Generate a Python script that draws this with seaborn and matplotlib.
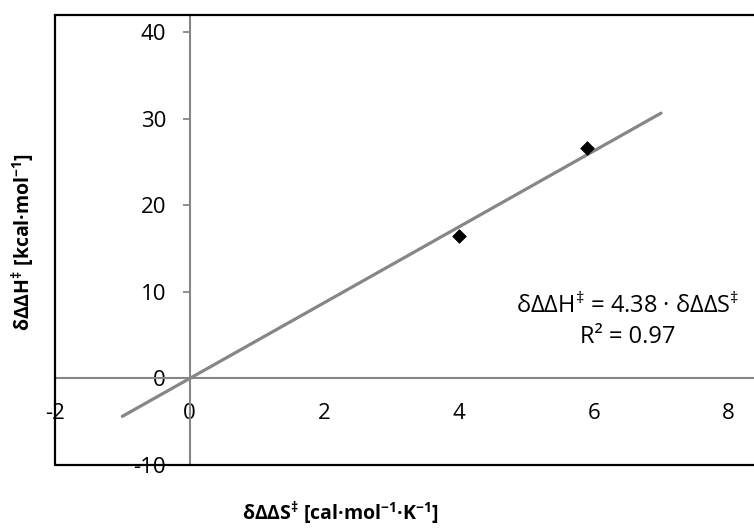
import matplotlib
matplotlib.use("Agg")
import matplotlib.pyplot as plt
import seaborn as sns
import numpy as np
import pandas as pd

# Data
dds = [4.0, 5.9]          # δΔΔS‡ [cal·mol⁻¹·K⁻¹]
ddh = [16.5, 26.6]        # δΔΔH‡ [kcal·mol⁻¹]
trend_slope = 4.38
trend_x = [-1.0, 7.0]
r2 = 0.97
x_ticks = [-2, 0, 2, 4, 6, 8]
y_ticks = [-10, 0, 10, 20, 30, 40]

sns.set_theme(style="white")
plt.rcParams['font.family'] = ['Open Sans', 'DejaVu Sans']
plt.rcParams['text.color'] = 'black'
plt.rcParams['mathtext.fontset'] = 'custom'
plt.rcParams['mathtext.rm'] = 'Open Sans'
plt.rcParams['mathtext.bf'] = 'Open Sans:bold'
plt.rcParams['mathtext.it'] = 'Open Sans:italic'
plt.rcParams['mathtext.default'] = 'rm'

fig = plt.figure(figsize=(7.54, 5.28), dpi=100)
ax = fig.add_axes([55/754, 63/528, 808/754, 450/528])

df = pd.DataFrame({"x": dds, "y": ddh})
trend = pd.DataFrame({"x": trend_x, "y": [trend_slope * v for v in trend_x]})

grey = "#868686"
sns.lineplot(data=trend, x="x", y="y", ax=ax, color=grey, lw=2.3, zorder=3)
sns.scatterplot(data=df, x="x", y="y", ax=ax, marker="D", s=48, color="black",
                edgecolor="black", zorder=4)

ax.set_xlim(-2, 10)
ax.set_ylim(-10, 42)
ax.set_xticks(x_ticks)
ax.set_yticks(y_ticks)
ax.set_xticklabels([str(t) for t in x_ticks])
ax.set_yticklabels([str(t) for t in y_ticks])

ax.spines['left'].set_position(('data', 0))
ax.spines['bottom'].set_position(('data', 0))
ax.spines['left'].set_color(grey)
ax.spines['bottom'].set_color(grey)
ax.spines['left'].set_linewidth(1.5)
ax.spines['bottom'].set_linewidth(1.5)
ax.spines['top'].set_color("black")
ax.spines['top'].set_linewidth(1.6)
ax.spines['right'].set_visible(False)

# outer border (left & bottom of plot area)
ax.axvline(-2, color="black", lw=1.6, zorder=5, clip_on=False)
ax.axhline(-10, color="black", lw=1.6, zorder=5, clip_on=False)

ax.tick_params(axis='y', direction='out', length=5, width=1.3, color=grey,
               pad=12, labelsize=16, left=True, labelcolor="black")
ax.tick_params(axis='x', length=0, pad=18, labelsize=16, labelcolor="black")

ax.set_xlabel("")
ax.set_ylabel("")

fig.text(340/754, 1 - 513/528,
         r"δΔΔS$^{\mathbf{‡}}$ [cal·mol$^{\mathbf{-1}}$·K$^{\mathbf{-1}}$]",
         ha="center", va="center", fontsize=14, fontweight="bold")
fig.text(23/754, 1 - 242/528,
         r"δΔΔH$^{\mathbf{‡}}$ [kcal·mol$^{\mathbf{-1}}$]",
         ha="center", va="center", rotation=90, fontsize=14, fontweight="bold")

ax.text(6.50, 8.3, f"δΔΔH$^{{‡}}$ = {trend_slope:.2f} · δΔΔS$^{{‡}}$",
        ha="center", va="center", fontsize=17)
ax.text(6.50, 4.8, f"R² = {r2:.2f}", ha="center", va="center", fontsize=17)

fig.savefig("out.png", dpi=100)
